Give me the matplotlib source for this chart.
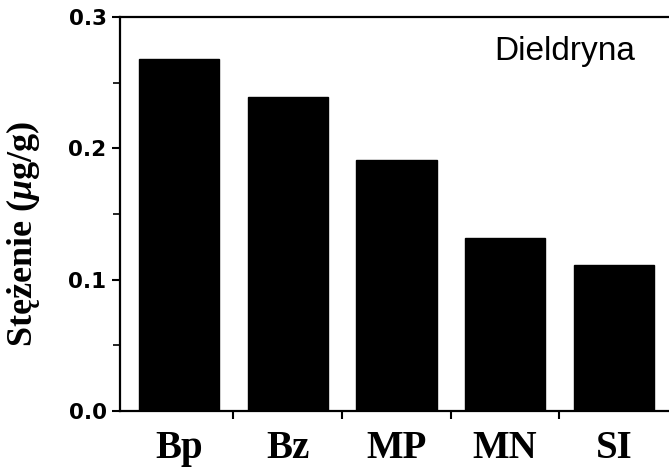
import matplotlib
matplotlib.use("Agg")
import matplotlib.pyplot as plt
from matplotlib.ticker import MultipleLocator

# sites and dieldrin concentration (ug/g)
sites = ["Bp", "Bz", "MP", "MN", "SI"]
dieldryna = [0.268, 0.239, 0.191, 0.132, 0.111]
y_ticks = [0.0, 0.1, 0.2, 0.3]
y_tick_labels = ["0.0", "0.1", "0.2", "0.3"]

plt.rcParams["mathtext.fontset"] = "custom"
plt.rcParams["mathtext.it"] = "Liberation Serif:italic:bold"
plt.rcParams["mathtext.rm"] = "Liberation Serif:bold"

fig = plt.figure(figsize=(6.69, 4.67), dpi=100)
ax = fig.add_axes([0.180, 0.120, 0.822, 0.844])

x = range(len(sites))
ax.bar(x, dieldryna, width=0.74, color="black", edgecolor="black")

ax.set_xlim(-0.54, 4.52)
ax.set_ylim(0, 0.3)

ax.set_yticks(y_ticks)
ax.set_yticklabels(y_tick_labels, family="DejaVu Sans", fontweight="bold", fontsize=15.5)
ax.yaxis.set_minor_locator(MultipleLocator(0.05))

# x ticks sit between the bars, labels centered under bars
ax.set_xticks([0.5, 1.5, 2.5, 3.5])
ax.set_xticklabels([])
ax.set_xticks(list(x), minor=True)
ax.set_xticklabels(sites, minor=True, family="Liberation Serif", fontweight="bold", fontsize=28)
ax.tick_params(axis="x", which="minor", length=0, pad=14)
ax.tick_params(axis="x", which="major", direction="out", length=6, width=1.5)
ax.tick_params(axis="y", which="major", direction="out", length=6, width=1.5, pad=4)
ax.tick_params(axis="y", which="minor", direction="out", length=5, width=1.2)

ax.set_ylabel("Stężenie ($\\mu$g/g)", family="Liberation Serif", fontweight="bold", fontsize=26)
ax.yaxis.set_label_coords(-0.143, 0.45)

for side in ["left", "bottom", "top"]:
    ax.spines[side].set_linewidth(1.6)
ax.spines["right"].set_visible(False)

ax.text(0.807, 0.891, "Dieldryna", transform=ax.transAxes, ha="center", va="baseline",
        family="Liberation Sans", fontsize=24)

fig.savefig("out.png", dpi=100)
